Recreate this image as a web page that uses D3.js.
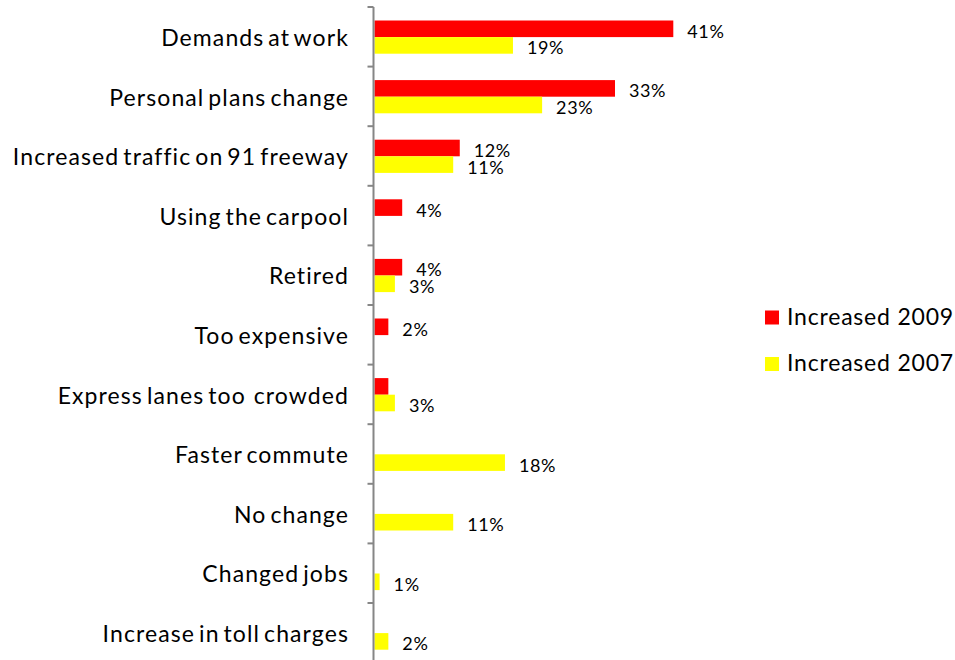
<!DOCTYPE html>
<html>
<head>
<meta charset="utf-8">
<script src="https://cdn.jsdelivr.net/npm/d3@7"></script>
<style>
  html, body { margin: 0; padding: 0; background: #fff; }
  svg { display: block; font-family: Lato, "Open Sans", sans-serif; }
  svg text { white-space: pre; }
</style>
</head>
<body>
<svg id="chart" width="955" height="660"></svg>
<script>
const categories = [
  "Demands at work",
  "Personal plans change",
  "Increased traffic on 91 freeway",
  "Using the carpool",
  "Retired",
  "Too expensive",
  "Express lanes too  crowded",
  "Faster commute",
  "No change",
  "Changed jobs",
  "Increase in toll charges"
];
const seriesNames = ["Increased 2009", "Increased 2007"];
const values2009 = [41, 33, 11.7, 3.8, 3.8, 1.9, 1.9, null, null, null, null];
const values2007 = [19, 23, 10.8, null, 2.8, null, 2.8, 17.9, 10.8, 0.7, 1.9];
const seriesColors = ["#ff0000", "#ffff00"];
// data labels that the reference does not show
const hiddenLabels2009 = ["Express lanes too  crowded"];
const hiddenLabels2007 = [];

const svg = d3.select("#chart");
const axisX = 374.5;
const x = d3.scaleLinear().domain([0, 41]).range([axisX, 673.3]);
const y = d3.scaleBand().domain(categories).range([7, 7 + 59.6 * 11]).padding(0);
const inner = d3.scaleBand().domain(seriesNames).range([y.bandwidth() / 2 - 16.3, y.bandwidth() / 2 + 16.9]).padding(0);

const hidden = [hiddenLabels2009, hiddenLabels2007];
const rows = categories.map((c, i) => ({ cat: c, vals: [values2009[i], values2007[i]] }));
const fmt = v => d3.format(".0f")(v) + "%";

// bars
const g = svg.append("g");
rows.forEach(r => {
  r.vals.forEach((v, si) => {
    if (v == null) return;
    const y0 = y(r.cat) + inner(seriesNames[si]);
    g.append("rect")
      .attr("x", x(0))
      .attr("y", y0)
      .attr("width", x(v) - x(0))
      .attr("height", inner.bandwidth())
      .attr("fill", seriesColors[si]);
    if (hidden[si].includes(r.cat)) return;
    g.append("text")
      .attr("x", x(v) + 14)
      .attr("y", y0 + inner.bandwidth() / 2 + 4.5)
      .attr("dominant-baseline", "middle")
      .attr("font-size", 18)
      .attr("letter-spacing", 0.6)
      .attr("fill", "#000")
      .text(fmt(v));
  });
});

// axis with labels
const axis = d3.axisLeft(y).tickSize(0).tickPadding(25);
const ag = svg.append("g").attr("transform", `translate(${axisX - 0.5},0)`).call(axis);
ag.select(".domain").remove();
ag.selectAll("text")
  .attr("font-size", 23)
  .attr("letter-spacing", 1.1)
  .attr("word-spacing", -3)
  .attr("font-family", "Lato, 'Open Sans', sans-serif")
  .attr("fill", "#000")
  .attr("dy", "0.4em");

// axis line and boundary ticks
svg.append("line")
  .attr("x1", axisX - 1).attr("x2", axisX - 1)
  .attr("y1", y.range()[0]).attr("y2", y.range()[1])
  .attr("stroke", "#868686").attr("stroke-width", 2);
const bounds = categories.map(c => y(c)).concat([y.range()[1]]);
svg.selectAll(".btick").data(bounds).enter().append("line")
  .attr("x1", axisX - 7).attr("x2", axisX - 1)
  .attr("y1", d => d).attr("y2", d => d)
  .attr("stroke", "#868686").attr("stroke-width", 2);

// legend
const lg = svg.append("g");
seriesNames.forEach((s, i) => {
  const cy = 317.5 + i * 46.5;
  lg.append("rect").attr("x", 765).attr("y", cy - 7).attr("width", 14).attr("height", 14).attr("fill", seriesColors[i]);
  lg.append("text").attr("x", 787).attr("y", cy + 1.5).attr("dominant-baseline", "middle")
    .attr("font-size", 23).attr("letter-spacing", 0.8).attr("fill", "#000").text(s);
});
</script>
</body>
</html>
